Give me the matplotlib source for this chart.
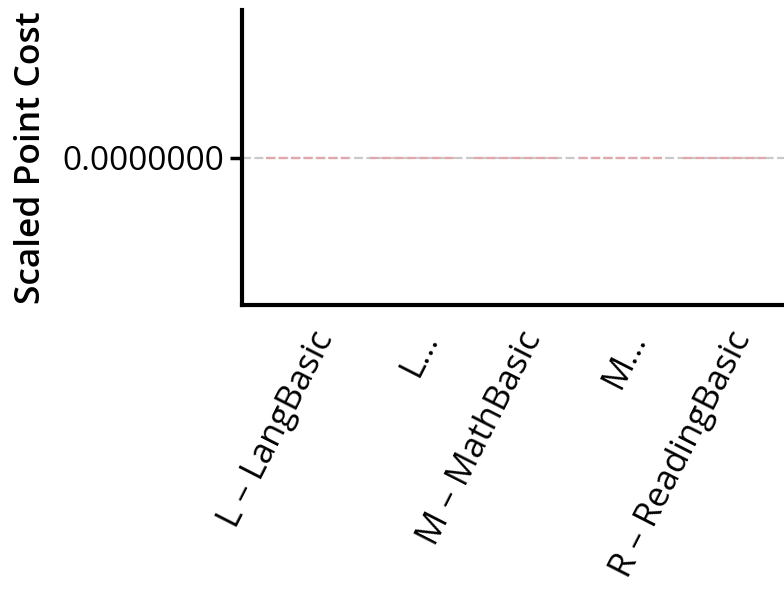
import numpy as np
import matplotlib
matplotlib.use("Agg")
import matplotlib.pyplot as plt
import matplotlib.transforms as mtransforms

# categories shown on the x axis and their scaled point cost
categories = ["L – LangBasic", "L...", "M – MathBasic", "M...", "R – ReadingBasic"]
point_cost = [0.0, 0.0, 0.0, 0.0, 0.0]

plt.rcParams['font.family'] = ['Open Sans', 'DejaVu Sans']

fig = plt.figure(figsize=(7.84, 5.89), dpi=100)
ax = fig.add_axes([0.309, 0.482, 0.691, 0.501])

x = np.arange(len(categories))
ax.axhline(0, color='#c9c9c9', lw=1.6, ls=(0, (4, 1.6)), zorder=1)
ax.hlines(point_cost, x - 0.4, x + 0.4, color='#e2a7aa', lw=1.6,
          linestyles=[(0, (4, 1.6))], zorder=2)

ax.set_xlim(-0.627, 4.57)
ax.set_ylim(-0.06, 0.06)
ax.set_yticks([0.0])
ax.set_yticklabels(['%.7f' % v for v in [0.0]], fontsize=24)
ax.set_xticks(x)
ax.set_xticklabels(categories, rotation=63, ha='right', fontsize=25)
ax.tick_params(axis='x', length=0, pad=15)
ax.tick_params(axis='y', length=9, width=2.5, pad=4)
ax.set_ylabel('Scaled Point Cost', fontsize=25.5, fontweight='semibold', labelpad=10)

# shift the rotated labels so their ends sit right of the category centre
shift = mtransforms.ScaledTranslation(0.33, 0, fig.dpi_scale_trans)
for lab in ax.get_xticklabels():
    lab.set_transform(lab.get_transform() + shift)

for s in ['top', 'right']:
    ax.spines[s].set_visible(False)
for s in ['left', 'bottom']:
    ax.spines[s].set_linewidth(3)

fig.savefig('out.png', dpi=100)
